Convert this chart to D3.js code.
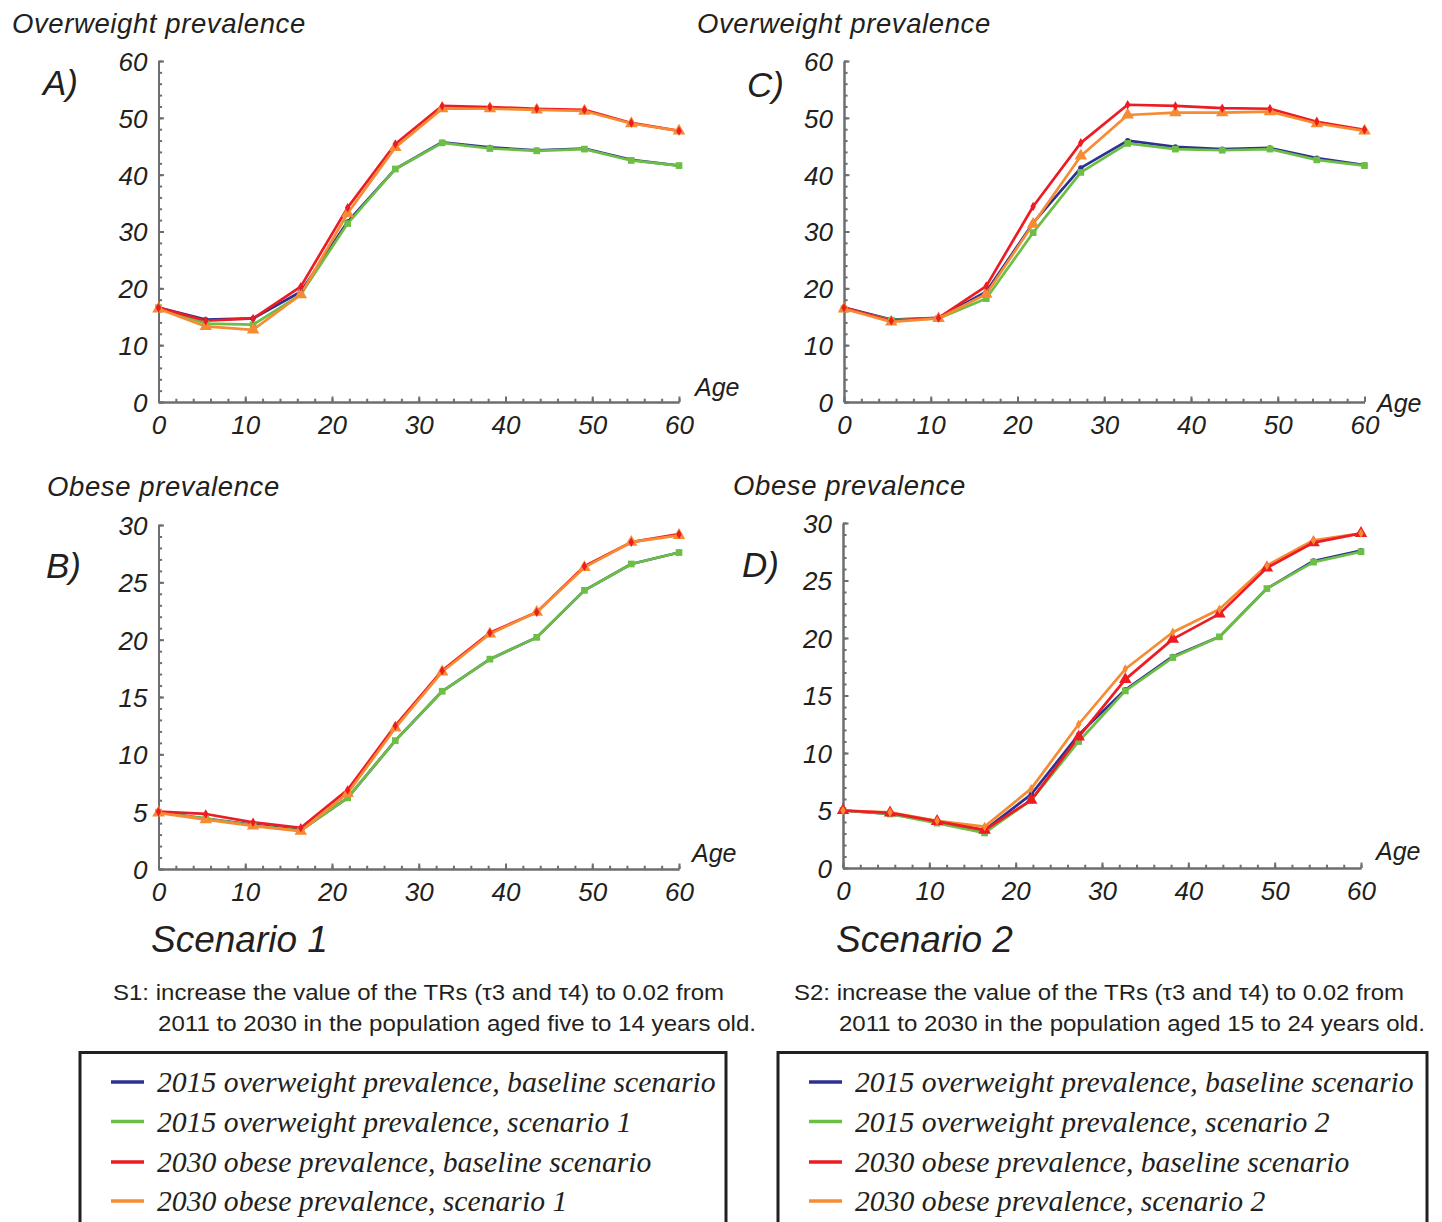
<!DOCTYPE html>
<html>
<head>
<meta charset="utf-8">
<script src="https://d3js.org/d3.v7.min.js"></script>
<style>
    body { margin: 0; background: #fff; }
    svg { display: block; }
    .tick text { font-family: "Liberation Sans", Arial, sans-serif; font-style: italic; font-size: 26px; fill: #231f20; }
    .lbl { font-family: "Liberation Sans", Arial, sans-serif; font-style: italic; fill: #231f20; }
    .cap { font-family: "Liberation Sans", Arial, sans-serif; fill: #231f20; font-size: 22px; }
    .leg { font-family: "Liberation Serif", "Times New Roman", serif; font-style: italic; fill: #231f20; font-size: 29.7px; }
</style>
</head>
<body>
<script>
// ages on the x axis
const ages = [0, 5.45, 10.9, 16.4, 21.8, 27.3, 32.7, 38.2, 43.6, 49.1, 54.5, 60]

// A) overweight, scenario 1
const a2015Base = [16.6, 14.5, 14.7, 19.4, 31.7, 41.0, 45.7, 44.8, 44.3, 44.6, 42.6, 41.6]
const a2015Scen = [16.6, 13.8, 13.6, 18.9, 31.4, 41.0, 45.6, 44.6, 44.2, 44.5, 42.5, 41.6]
const a2030Base = [16.6, 14.3, 14.7, 20.3, 34.2, 45.4, 52.1, 51.9, 51.6, 51.4, 49.1, 47.7]
const a2030Scen = [16.4, 13.3, 12.7, 18.9, 33.2, 44.8, 51.6, 51.6, 51.4, 51.2, 49.0, 47.7]

// C) overweight, scenario 2
const c2015Base = [16.6, 14.5, 14.8, 19.4, 31.5, 41.2, 46.0, 44.9, 44.5, 44.7, 42.9, 41.7]
const c2015Scen = [16.4, 14.4, 14.7, 18.2, 29.8, 40.4, 45.5, 44.5, 44.3, 44.5, 42.6, 41.6]
const c2030Base = [16.6, 14.3, 14.8, 20.4, 34.4, 45.6, 52.3, 52.1, 51.7, 51.6, 49.3, 47.9]
const c2030Scen = [16.4, 14.1, 14.7, 19.0, 31.3, 43.3, 50.5, 50.9, 50.9, 51.1, 49.0, 47.7]

// B) obese, scenario 1
const b2015Base = [4.95, 4.4, 3.85, 3.4, 6.2, 11.2, 15.5, 18.3, 20.2, 24.3, 26.6, 27.6]
const b2015Scen = [4.95, 4.4, 3.8, 3.35, 6.2, 11.2, 15.5, 18.3, 20.2, 24.3, 26.6, 27.6]
const b2030Base = [5.0, 4.8, 4.07, 3.6, 6.9, 12.5, 17.3, 20.6, 22.4, 26.4, 28.5, 29.2]
const b2030Scen = [4.9, 4.3, 3.75, 3.3, 6.6, 12.3, 17.2, 20.5, 22.4, 26.3, 28.5, 29.1]

// D) obese, scenario 2
const d2015Base = [5.0, 4.7, 4.0, 3.3, 6.4, 11.6, 15.5, 18.4, 20.1, 24.3, 26.7, 27.6]
const d2015Scen = [5.0, 4.7, 3.9, 3.05, 5.9, 11.0, 15.4, 18.3, 20.1, 24.3, 26.6, 27.5]
const d2030Base = [5.0, 4.8, 4.06, 3.3, 5.9, 11.4, 16.4, 19.9, 22.1, 26.1, 28.3, 29.1]
const d2030Scen = [5.0, 4.85, 4.1, 3.6, 6.9, 12.5, 17.3, 20.5, 22.5, 26.3, 28.5, 29.1]

const legend1 = ['2015 overweight prevalence, baseline scenario', '2015 overweight prevalence, scenario 1',
                 '2030 obese prevalence, baseline scenario', '2030 obese prevalence, scenario 1']
const legend2 = ['2015 overweight prevalence, baseline scenario', '2015 overweight prevalence, scenario 2',
                 '2030 obese prevalence, baseline scenario', '2030 obese prevalence, scenario 2']

const blue = '#2e3192', green = '#6cbe45', red = '#ed1c24', orange = '#f68b33'
const axisGrey = '#6d6e71'

const w = 1442, h = 1222
const svg = d3.select('body').append('svg').attr('width', w).attr('height', h)

// series listed in line drawing order
const panels = [
    {title: 'Overweight prevalence', tx: 12, ty: 33, letter: 'A)', lx: 43, ly: 95,
     x0: 158.5, x1: 679, yB: 402, yT: 61, ymax: 60, yStep: 10, yMinor: 2, ageX: 695, ageY: 396,
     series: [[a2015Base, blue, 'circle'], [a2015Scen, green, 'square'], [a2030Base, red, 'diamond'], [a2030Scen, orange, 'triangle']]},
    {title: 'Overweight prevalence', tx: 697, ty: 33, letter: 'C)', lx: 747, ly: 97,
     x0: 844, x1: 1364.5, yB: 402, yT: 61, ymax: 60, yStep: 10, yMinor: 2, ageX: 1377, ageY: 412,
     series: [[c2015Base, blue, 'circle'], [c2015Scen, green, 'square'], [c2030Base, red, 'diamond'], [c2030Scen, orange, 'triangle']]},
    {title: 'Obese prevalence', tx: 47, ty: 496, letter: 'B)', lx: 46, ly: 578,
     x0: 158.5, x1: 679, yB: 869, yT: 525, ymax: 30, yStep: 5, yMinor: 1, ageX: 692, ageY: 862,
     series: [[b2015Base, blue, 'circle'], [b2015Scen, green, 'square'], [b2030Base, red, 'diamond'], [b2030Scen, orange, 'triangle']]},
    {title: 'Obese prevalence', tx: 733, ty: 495, letter: 'D)', lx: 742, ly: 577,
     x0: 843, x1: 1361, yB: 868, yT: 523, ymax: 30, yStep: 5, yMinor: 1, ageX: 1376, ageY: 860,
     series: [[d2015Base, blue, 'circle'], [d2015Scen, green, 'square'], [d2030Scen, orange, 'diamond'], [d2030Base, red, 'triangle']]}
]

const shapes = {
    circle: d3.symbol().type(d3.symbolCircle).size(22),
    square: d3.symbol().type(d3.symbolSquare).size(45),
    triangle: d3.symbol().type(d3.symbolTriangle).size(68),
    diamond: d3.symbol().type(d3.symbolDiamond).size(26)
}
const markerOrder = ['circle', 'square', 'triangle', 'diamond']

panels.forEach(p => {
    const g = svg.append('g')
    const xScale = d3.scaleLinear().domain([0, 60]).range([p.x0, p.x1])
    const yScale = d3.scaleLinear().domain([0, p.ymax]).range([p.yB, p.yT])

    // minor ticks
    g.append('g').attr('transform', 'translate(0,' + p.yB + ')')
        .call(d3.axisBottom(xScale).tickValues(d3.range(0, 61, 2)).tickSize(-3.3).tickSizeOuter(0).tickFormat(''))
    g.append('g').attr('transform', 'translate(' + p.x0 + ',0)')
        .call(d3.axisLeft(yScale).tickValues(d3.range(0, p.ymax + 0.01, p.yMinor)).tickSize(-3.6).tickSizeOuter(0).tickFormat(''))

    // major ticks + labels
    const xAxis = g.append('g').attr('transform', 'translate(0,' + p.yB + ')')
        .call(d3.axisBottom(xScale).tickValues(d3.range(0, 61, 10)).tickSize(-5.5).tickSizeOuter(0).tickPadding(0))
    xAxis.selectAll('text').attr('y', 0).attr('dy', '32px')
    const yAxis = g.append('g').attr('transform', 'translate(' + p.x0 + ',0)')
        .call(d3.axisLeft(yScale).tickValues(d3.range(0, p.ymax + 0.01, p.yStep)).tickSize(-5.5).tickSizeOuter(0))
    yAxis.selectAll('text').attr('x', -11).attr('dy', '0.36em')

    g.selectAll('.domain, .tick line').attr('stroke', axisGrey).attr('stroke-width', 2)

    const line = d3.line().x((d, i) => xScale(ages[i])).y(d => yScale(d))

    p.series.forEach(s => {
        g.append('path').datum(s[0]).attr('d', line)
            .attr('fill', 'none').attr('stroke', s[1]).attr('stroke-width', 2.7).attr('stroke-linejoin', 'round')
    })
    markerOrder.forEach(shape => {
        p.series.filter(s => s[2] === shape).forEach(s => {
            g.selectAll(null).data(s[0]).enter().append('path')
                .attr('d', shapes[shape])
                .attr('transform', (d, i) => 'translate(' + xScale(ages[i]) + ',' + yScale(d) + ')')
                .attr('fill', s[1])
        })
    })

    svg.append('text').attr('class', 'lbl').attr('x', p.tx).attr('y', p.ty)
        .style('font-size', '27.5px').style('letter-spacing', '0.6px').text(p.title)
    svg.append('text').attr('class', 'lbl').attr('x', p.lx).attr('y', p.ly).style('font-size', '35px').text(p.letter)
    svg.append('text').attr('class', 'lbl').attr('x', p.ageX).attr('y', p.ageY).style('font-size', '25px').text('Age')
})

// scenario titles and captions
const notes = [
    {title: 'Scenario 1', x: 151, line1: 'S1: increase the value of the TRs (τ3 and τ4) to 0.02 from', l1x: 113, l1w: 611,
     line2: '2011 to 2030 in the population aged five to 14 years old.', l2x: 158, l2w: 598},
    {title: 'Scenario 2', x: 836, line1: 'S2: increase the value of the TRs (τ3 and τ4) to 0.02 from', l1x: 794, l1w: 610,
     line2: '2011 to 2030 in the population aged 15 to 24 years old.', l2x: 839, l2w: 586}
]
notes.forEach(n => {
    svg.append('text').attr('class', 'lbl').attr('x', n.x).attr('y', 952).style('font-size', '37px').text(n.title)
    svg.append('text').attr('class', 'cap').attr('x', n.l1x).attr('y', 1000)
        .attr('textLength', n.l1w).attr('lengthAdjust', 'spacingAndGlyphs').text(n.line1)
    svg.append('text').attr('class', 'cap').attr('x', n.l2x).attr('y', 1031)
        .attr('textLength', n.l2w).attr('lengthAdjust', 'spacingAndGlyphs').text(n.line2)
})

// legends
const legendColours = [blue, green, red, orange]
const legendRows = [1082, 1121.5, 1162, 1201]
;[[80, 726, legend1], [778, 1427, legend2]].forEach(([left, right, labels]) => {
    svg.append('rect').attr('x', left).attr('y', 1052.5).attr('width', right - left).attr('height', 200)
        .attr('fill', 'none').attr('stroke', '#231f20').attr('stroke-width', 3)
    const item = svg.selectAll(null).data(labels).enter().append('g')
        .attr('transform', (d, i) => 'translate(' + left + ',' + legendRows[i] + ')')
    item.append('line').attr('x1', 31).attr('x2', 64).attr('y1', 0).attr('y2', 0)
        .attr('stroke', (d, i) => legendColours[i]).attr('stroke-width', 3.5)
    item.append('text').attr('class', 'leg').attr('x', 77).attr('y', 10).text(d => d)
})
</script>
</body>
</html>
